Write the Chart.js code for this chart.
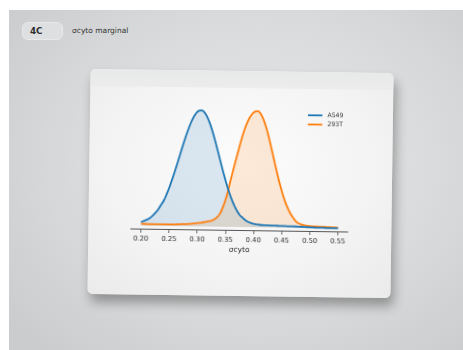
<!DOCTYPE html>
<html>
<head>
<meta charset="utf-8">
<script src="https://cdn.jsdelivr.net/npm/chart.js@4/dist/chart.umd.min.js"></script>
<style>
  html, body { margin: 0; padding: 0; background: #ffffff; }
  body { width: 463px; height: 350px; position: relative; overflow: hidden; font-family: "DejaVu Sans", sans-serif; }
  .stage {
    position: absolute; left: 9px; top: 10px; right: 0; bottom: 0;
    background: radial-gradient(ellipse 70% 75% at 55% 45%, #e6e6e7 0%, #dadbdc 55%, #cbcccd 100%);
  }
  .pill {
    position: absolute; left: 22px; top: 22px; width: 41px; height: 18px;
    border-radius: 6px; background: #dedfe0; border: 1px solid #e8e9ea;
    box-sizing: border-box; font-weight: bold; font-size: 8.8px; color: #2e2e2e;
    line-height: 16px; padding-left: 7px;
  }
  .caption {
    position: absolute; left: 72px; top: 26px; font-size: 7.5px; color: #333; line-height: 10px;
  }
  .card {
    position: absolute; left: 89px; top: 71px; width: 303px; height: 225px;
    transform: rotate(0.8deg); border-radius: 5px; overflow: hidden;
    background: radial-gradient(ellipse 75% 80% at 50% 42%, #fcfcfc 0%, #f4f4f4 55%, #eaeaea 100%);
    box-shadow: 3px 8px 12px rgba(0,0,0,0.33);
  }
  .strip {
    position: absolute; left: 0; top: 0; right: 0; height: 17px;
    background: linear-gradient(#e8e9e9, #ececec);
  }
  .card canvas { position: absolute; left: 0; top: 0; }
</style>
</head>
<body>
<div class="stage"></div>
<div class="pill">4C</div>
<div class="caption">σcyto marginal</div>
<div class="card">
  <div class="strip"></div>
  <canvas id="kde" width="303" height="225"></canvas>
</div>
<script>
// Grid of σcyto values at which the kernel density estimates are evaluated
const sigmaCyto = [
  0.200, 0.205, 0.210, 0.215, 0.220, 0.225, 0.230, 0.235, 0.240, 0.245,
  0.250, 0.255, 0.260, 0.265, 0.270, 0.275, 0.280, 0.285, 0.290, 0.295,
  0.300, 0.305, 0.310, 0.315, 0.320, 0.325, 0.330, 0.335, 0.340, 0.345,
  0.350, 0.355, 0.360, 0.365, 0.370, 0.375, 0.380, 0.385, 0.390, 0.395,
  0.400, 0.405, 0.410, 0.415, 0.420, 0.425, 0.430, 0.435, 0.440, 0.445,
  0.450, 0.455, 0.460, 0.465, 0.470, 0.475, 0.480, 0.485, 0.490, 0.495,
  0.500, 0.505, 0.510, 0.515, 0.520, 0.525, 0.530, 0.535, 0.540, 0.545,
  0.550
];

// Marginal density (peak-normalised) for A549 cells
const densityA549 = [
  0.030, 0.040, 0.050, 0.064, 0.085, 0.110, 0.140, 0.180, 0.219, 0.276,
  0.340, 0.412, 0.490, 0.572, 0.655, 0.736, 0.811, 0.878, 0.933, 0.973,
  0.995, 0.999, 0.982, 0.944, 0.887, 0.815, 0.733, 0.645, 0.554, 0.466,
  0.383, 0.308, 0.242, 0.186, 0.140, 0.103, 0.080, 0.060, 0.045, 0.035,
  0.028, 0.024, 0.021, 0.019, 0.018, 0.017, 0.016, 0.015, 0.015, 0.014,
  0.014, 0.013, 0.012, 0.012, 0.011, 0.010, 0.009, 0.008, 0.007, 0.006,
  0.005, 0.004, 0.003, 0.003, 0.002, 0.002, 0.001, 0.001, 0.001, 0.001,
  0.000
];

// Marginal density (peak-normalised) for 293T cells
const density293T = [
  0.015, 0.015, 0.014, 0.014, 0.013, 0.013, 0.013, 0.013, 0.013, 0.013,
  0.013, 0.014, 0.014, 0.015, 0.016, 0.017, 0.018, 0.020, 0.022, 0.025,
  0.028, 0.031, 0.036, 0.040, 0.045, 0.050, 0.062, 0.080, 0.112, 0.168,
  0.240, 0.335, 0.440, 0.540, 0.635, 0.730, 0.815, 0.885, 0.938, 0.975,
  0.995, 1.000, 0.977, 0.929, 0.860, 0.774, 0.677, 0.576, 0.477, 0.384,
  0.301, 0.229, 0.170, 0.122, 0.086, 0.055, 0.038, 0.028, 0.021, 0.017,
  0.015, 0.014, 0.013, 0.012, 0.011, 0.010, 0.009, 0.008, 0.007, 0.006,
  0.005
];

const seriesNames = ["A549", "293T"];
const xTicks = [0.20, 0.25, 0.30, 0.35, 0.40, 0.45, 0.50, 0.55];
const xTitle = "σcyto";

const BLUE = "#1f77b4";
const ORANGE = "#ff7f0e";

const toPoints = ys => sigmaCyto.map((x, i) => ({ x: x, y: ys[i] }));

// Small line-sample legend in the upper right of the plot area
const cornerLegend = {
  id: "cornerLegend",
  afterDatasetsDraw(chart) {
    const { ctx, chartArea } = chart;
    const x0 = chartArea.right - 41.5;
    const y0 = chartArea.top + 9.3;
    ctx.save();
    ctx.font = "6.2px 'DejaVu Sans'";
    ctx.textBaseline = "middle";
    chart.data.datasets.forEach((ds, i) => {
      const y = y0 + i * 9.2;
      ctx.strokeStyle = ds.borderColor;
      ctx.lineWidth = 1.8;
      ctx.beginPath();
      ctx.moveTo(x0, y);
      ctx.lineTo(x0 + 14.5, y);
      ctx.stroke();
      ctx.fillStyle = "#333";
      ctx.fillText(ds.label, x0 + 19.5, y + 0.3);
    });
    ctx.restore();
  }
};

new Chart(document.getElementById("kde"), {
  type: "line",
  data: {
    datasets: [
      {
        label: seriesNames[0],
        data: toPoints(densityA549),
        borderColor: BLUE,
        backgroundColor: "rgba(31,119,180,0.15)",
        borderWidth: 1.8,
        fill: "origin",
        pointRadius: 0,
        cubicInterpolationMode: "monotone"
      },
      {
        label: seriesNames[1],
        data: toPoints(density293T),
        borderColor: ORANGE,
        backgroundColor: "rgba(255,127,14,0.15)",
        borderWidth: 1.8,
        fill: "origin",
        pointRadius: 0,
        cubicInterpolationMode: "monotone"
      }
    ]
  },
  options: {
    responsive: false,
    animation: false,
    devicePixelRatio: 1,
    layout: { padding: { left: 42.75, right: 43.55, top: 34, bottom: 40 } },
    plugins: {
      legend: { display: false },
      tooltip: { enabled: false },
      filler: { drawTime: "beforeDatasetsDraw" }
    },
    scales: {
      x: {
        type: "linear",
        min: 0.1825,
        max: 0.5675,
        afterBuildTicks: s => { s.ticks = xTicks.map(v => ({ value: v })); },
        afterFit: s => { s.height = 25; },
        grid: { display: true, drawOnChartArea: false, drawTicks: true, tickLength: 3, color: "#444", lineWidth: 0.8 },
        border: { display: true, color: "#555", width: 1.1 },
        ticks: {
          padding: 2,
          maxRotation: 0,
          autoSkip: false,
          color: "#2e2e2e",
          font: { family: "DejaVu Sans", size: 6.8 },
          callback: v => Number(v).toFixed(2)
        },
        title: {
          display: true,
          text: xTitle,
          color: "#2e2e2e",
          font: { family: "DejaVu Sans", size: 7.5 },
          padding: { top: 0, bottom: 1 }
        }
      },
      y: {
        display: false,
        min: -0.035,
        max: 1.05
      }
    }
  },
  plugins: [cornerLegend]
});
</script>
</body>
</html>
